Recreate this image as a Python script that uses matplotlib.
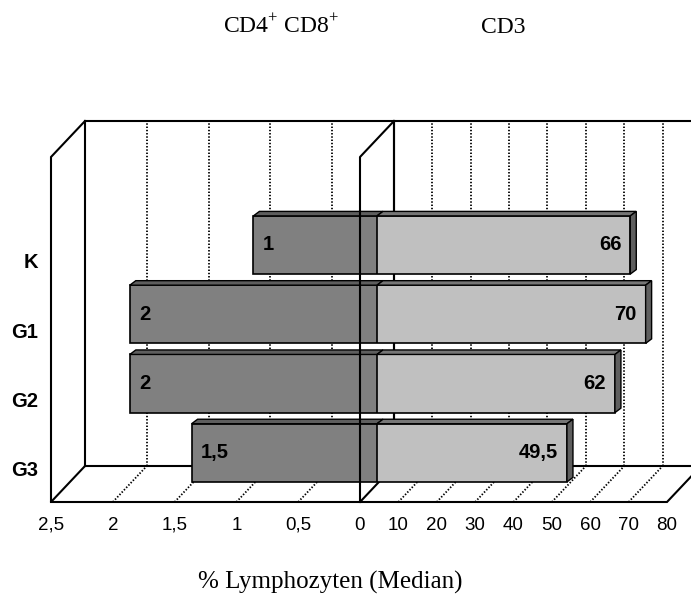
import numpy as np
import matplotlib.pyplot as plt
from matplotlib.patches import Polygon

# Daten (Median, % Lymphozyten)
gruppen = ["K", "G1", "G2", "G3"]
cd4cd8 = [1, 2, 2, 1.5]
cd3 = [66, 70, 62, 49.5]
ticks_links = [2.5, 2, 1.5, 1, 0.5, 0]
ticks_rechts = [10, 20, 30, 40, 50, 60, 70, 80]
gitter_links = [2, 1.5, 1, 0.5]
gitter_rechts = [10, 20, 30, 40, 50, 60, 70]


def komma(v):
    return ("%g" % v).replace(".", ",")


plt.rcParams["font.family"] = ["Liberation Sans", "DejaVu Sans"]
plt.rcParams["mathtext.fontset"] = "custom"
plt.rcParams["mathtext.rm"] = "Liberation Serif"

W, H = 691, 597
fig = plt.figure(figsize=(W / 100, H / 100), dpi=100)

# Balkenebene (mittlere Tiefe) in Pixeln
unten, oben = 484, 139
axL = fig.add_axes([68 / W, (H - unten) / H, 309 / W, (unten - oben) / H])
axR = fig.add_axes([377 / W, (H - unten) / H, 307 / W, (unten - oben) / H])
axL.set_xlim(2.5, 0)
axR.set_xlim(0, 80)
for ax in (axL, axR):
    ax.set_ylim(-0.45, 4.53)
    ax.axis("off")

TX, TY = 17, 18      # halbe Tiefe des Rahmens (Pixel)
BX, BY = 6, 4.5      # Tiefe der Balken (Pixel)
y = np.arange(len(gruppen))[::-1]
hoehe = 0.84


def versatz(ax, x, yy, dx, dy):
    p = ax.transData.transform((x, yy)) + np.array([dx, dy])
    return ax.transData.inverted().transform(p)


def kante(ax, punkte, **kw):
    xy = np.array([versatz(ax, x, yy, t * TX, t * TY) for x, yy, t in punkte])
    ax.plot(xy[:, 0], xy[:, 1], clip_on=False, **kw)


rahmen = dict(color="black", lw=1.5, zorder=1, solid_joinstyle="miter")
punkte = dict(color="black", lw=1.3, ls=(0, (0.8, 1.0)), zorder=1)
y0, y1 = axL.get_ylim()

# linkes Feld
kante(axL, [(2.5, y0, 1), (0, y0, 1), (0, y1, 1), (2.5, y1, 1), (2.5, y0, 1)], **rahmen)
kante(axL, [(2.5, y1, 1), (2.5, y1, -1), (2.5, y0, -1), (2.5, y0, 1)], **rahmen)
kante(axL, [(2.5, y0, -1), (0, y0, -1)], **rahmen)
for g in gitter_links:
    kante(axL, [(g, y0, 1), (g, y1, 1)], **punkte)
    kante(axL, [(g, y0, -1), (g, y0, 1)], **punkte)

# rechtes Feld
kante(axR, [(0, y0, 1), (80, y0, 1), (80, y1, 1), (0, y1, 1), (0, y0, 1)], **rahmen)
kante(axR, [(0, y0, 1), (0, y0, -1), (80, y0, -1), (80, y0, 1)], **rahmen)
for g in gitter_rechts:
    kante(axR, [(g, y0, 1), (g, y1, 1)], **punkte)
    kante(axR, [(g, y0, -1), (g, y0, 1)], **punkte)
# vordere Kante der Trennwand liegt vor den Balken
kante(axL, [(0, y0, -1), (0, y1, -1), (0, y1, 1)], color="black", lw=1.5, zorder=6)

# Balken
axL.barh(y, cd4cd8, height=hoehe, color="#808080", edgecolor="black", lw=1.2, zorder=3)
axR.barh(y, cd3, height=hoehe, color="#c0c0c0", edgecolor="black", lw=1.2, zorder=3)

for i in range(len(gruppen)):
    yt, yb = y[i] + hoehe / 2, y[i] - hoehe / 2
    v = cd4cd8[i]
    dach = [(v, yt), (0, yt), versatz(axL, 0, yt, BX, BY), versatz(axL, v, yt, BX, BY)]
    axL.add_patch(Polygon(dach, closed=True, fc="#5e5e5e", ec="black", lw=1.0,
                          zorder=3, clip_on=False))
    w = cd3[i]
    dach = [(0, yt), (w, yt), versatz(axR, w, yt, BX, BY), versatz(axR, 0, yt, BX, BY)]
    axR.add_patch(Polygon(dach, closed=True, fc="#767676", ec="black", lw=1.0,
                          zorder=3, clip_on=False))
    seite = [(w, yb), (w, yt), versatz(axR, w, yt, BX, BY), versatz(axR, w, yb, BX, BY)]
    axR.add_patch(Polygon(seite, closed=True, fc="#5e5e5e", ec="black", lw=1.0,
                          zorder=3, clip_on=False))

    # Werte
    px, py = versatz(axL, v, y[i], 9, 0)
    axL.text(px, py, komma(v), ha="left", va="center", fontsize=14.5,
             fontweight="bold", zorder=7)
    px, py = versatz(axR, w, y[i], -9, 0)
    axR.text(px, py, komma(w), ha="right", va="center", fontsize=14.5,
             fontweight="bold", zorder=7)

    # Gruppen
    px, py = versatz(axL, 2.5, y[i], -TX - 13, -TY)
    axL.text(px, py, gruppen[i], ha="right", va="center", fontsize=14.5,
             fontweight="bold")

# Achsenbeschriftung
for t in ticks_links:
    px, py = versatz(axL, t, y0, -TX, -TY - 23)
    axL.text(px, py, komma(t), ha="center", va="center", fontsize=13.5)
for t in ticks_rechts:
    px, py = versatz(axR, t, y0, -TX, -TY - 23)
    axR.text(px, py, komma(t), ha="center", va="center", fontsize=13.5)

fig.text(281 / W, 1 - 33 / H, r"CD4$^{+}$ CD8$^{+}$", ha="center", va="baseline",
         fontsize=17, family="Liberation Serif")
fig.text(503 / W, 1 - 33 / H, "CD3", ha="center", va="baseline",
         fontsize=17, family="Liberation Serif")
fig.text(330 / W, 1 - 589 / H, "% Lymphozyten (Median)", ha="center", va="baseline",
         fontsize=18, family="Liberation Serif")

fig.savefig("out.png", dpi=100)
